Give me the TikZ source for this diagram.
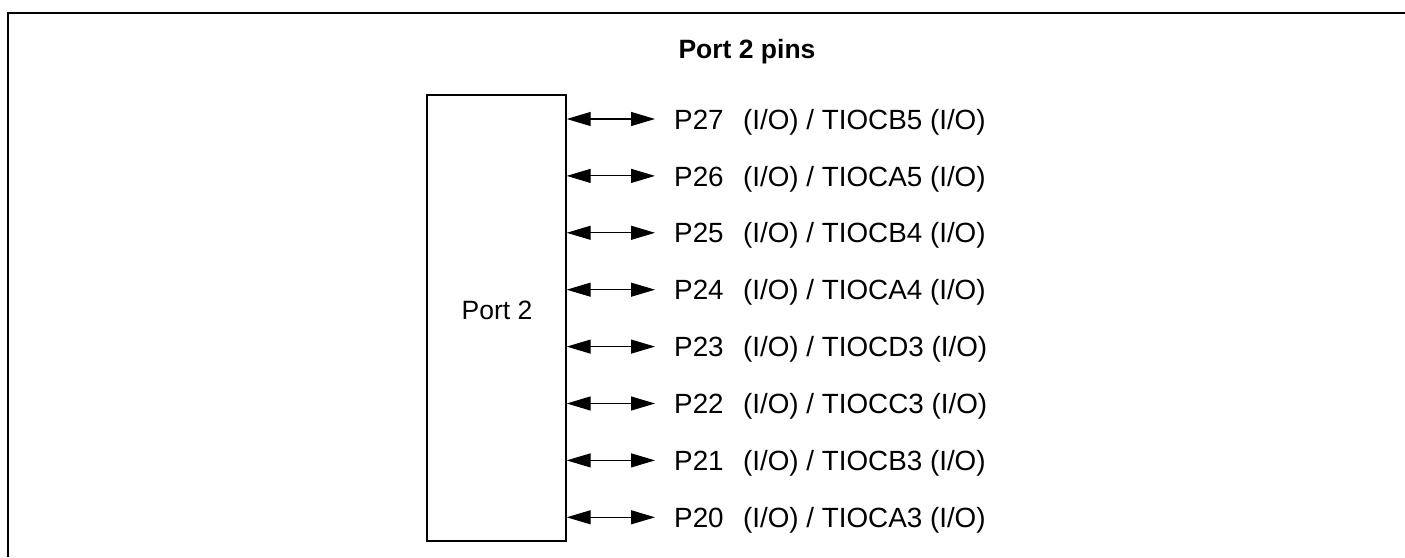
\documentclass[tikz,border=0pt]{standalone}
\usepackage{fontspec}
\setmainfont{Liberation Sans}
\usetikzlibrary{arrows.meta}
\begin{document}
\begin{tikzpicture}[x=1pt,y=1pt,
  lbl/.style={anchor=west,inner sep=0pt,font=\fontsize{27.8}{30}\selectfont},
  pinarrow/.style={line width=1.1pt,{Triangle[length=24pt,width=14pt]}-{Triangle[length=24pt,width=14pt]}},
  portbox/.style={draw,line width=1.4pt,minimum width=139pt,minimum height=446pt,inner sep=0pt}]
\useasboundingbox (0,0) rectangle (1405,557);
\draw[line width=2.4pt] (8,0) -- (8,544) -- (1405,544);
\node[font=\bfseries\fontsize{26.5}{30}\selectfont] (title) at (747,505) {Port 2 pins};
\node[portbox] (box) at (496.5,239) {};
\node[font=\fontsize{26.5}{30}\selectfont] (boxlbl) at (497,247) {Port 2};
\foreach \i/\n/\t in {0/27/TIOCB5,1/26/TIOCA5,2/25/TIOCB4,3/24/TIOCA4,4/23/TIOCD3,5/22/TIOCC3,6/21/TIOCB3,7/20/TIOCA3}{
  \coordinate (s\i) at (box.east |- 0,{438-56.9*\i});
  \coordinate (e\i) at (655,{438-56.9*\i});
  \draw[pinarrow] (s\i) -- (e\i);
  \node[lbl] (l\i) at (674,{435-56.9*\i}) {P\n\hspace{0.7em}(I/O) / \t\ (I/O)};
}
\end{tikzpicture}
\end{document}
